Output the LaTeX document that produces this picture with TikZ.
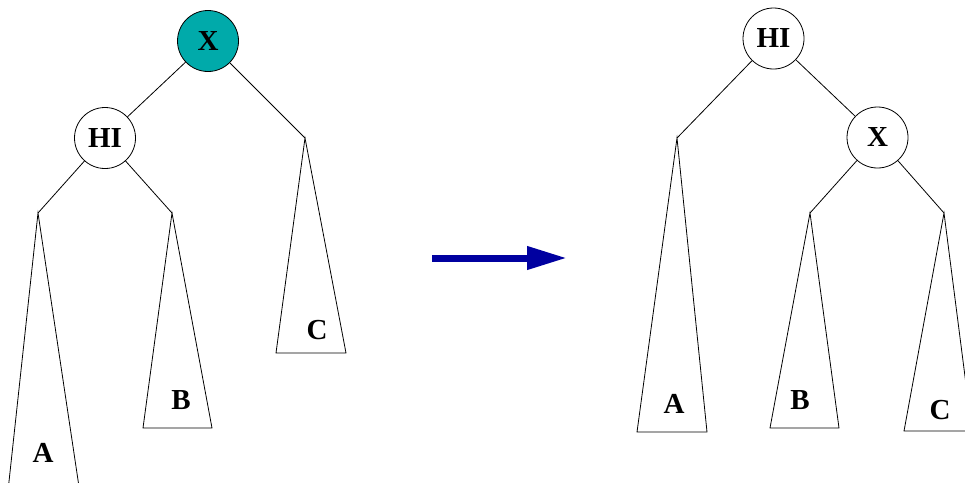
\documentclass[tikz,border=0pt]{standalone}
\usepackage{fontspec}
\setmainfont{Liberation Serif}
\usetikzlibrary{arrows.meta}
\definecolor{tealfill}{RGB}{0,170,170}
\definecolor{arrowblue}{RGB}{0,0,160}
\tikzset{
  treenode/.style={circle, draw=black, line width=0.8pt, minimum size=61pt, inner sep=0pt, font=\fontsize{29}{29}\selectfont\bfseries},
  edge/.style={line width=0.8pt},
  subtree/.style={line width=0.8pt},
  lbl/.style={font=\fontsize{29}{29}\selectfont\bfseries, inner sep=0pt},
  bigarrow/.style={draw=arrowblue, fill=arrowblue, line width=7pt, -{Triangle[length=40pt,width=22pt]}}
}
\begin{document}
\begin{tikzpicture}[x=1pt,y=-1pt]
\useasboundingbox (0,0) rectangle (965,482);
\clip (0,0) rectangle (965,482);
% left tree
\node[treenode, fill=tealfill] (lX) at (208,41) {X};
\node[treenode] (lHI) at (105,138) {HI};
\coordinate (lAtop) at (38,213);
\coordinate (lBtop) at (172,213);
\coordinate (lCtop) at (305,138);
\draw[edge] (lX) -- (lHI);
\draw[edge] (lX) -- (lCtop);
\draw[edge] (lHI) -- (lAtop);
\draw[edge] (lHI) -- (lBtop);
\draw[subtree] (lAtop) -- (7,500) -- (81,500) -- cycle;
\draw[subtree] (lBtop) -- (143,428) -- (212,428) -- cycle;
\draw[subtree] (lCtop) -- (276,353) -- (346,353) -- cycle;
\node[lbl] (lA) at (43,453) {A};
\node[lbl] (lB) at (181,400) {B};
\node[lbl] (lC) at (317,330) {C};
% arrow
\coordinate (arrS) at (432,258);
\coordinate (arrE) at (567,258);
\draw[bigarrow] (arrS) -- (arrE);
% right tree
\node[treenode] (rHI) at (773.5,38.5) {HI};
\node[treenode] (rX) at (877.5,137.5) {X};
\coordinate (rAtop) at (677,138);
\coordinate (rBtop) at (810,213);
\coordinate (rCtop) at (944,213);
\draw[edge] (rHI) -- (rX);
\draw[edge] (rHI) -- (rAtop);
\draw[edge] (rX) -- (rBtop);
\draw[edge] (rX) -- (rCtop);
\draw[subtree] (rAtop) -- (637,432) -- (707,432) -- cycle;
\draw[subtree] (rBtop) -- (770,428) -- (839,428) -- cycle;
\draw[subtree] (rCtop) -- (904,431) -- (972,431) -- cycle;
\node[lbl] (rA) at (674,404) {A};
\node[lbl] (rB) at (800,400) {B};
\node[lbl] (rC) at (940,410) {C};
\end{tikzpicture}
\end{document}
